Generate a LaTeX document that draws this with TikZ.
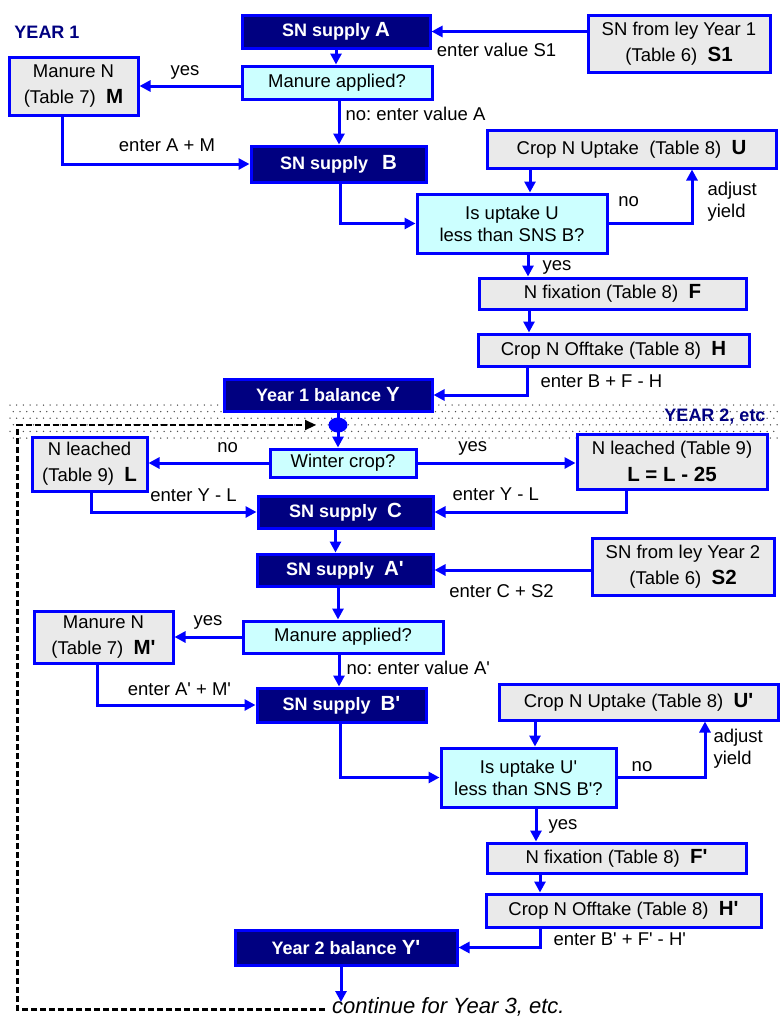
\documentclass[tikz,border=0pt]{standalone}
\usepackage{fontspec}
\setmainfont{Liberation Sans}[Ligatures=TeXOff]
\usetikzlibrary{arrows.meta,shapes.geometric}
\frenchspacing

\definecolor{boxnavy}{RGB}{0,0,128}
\definecolor{edgeblue}{RGB}{0,0,255}
\definecolor{asklight}{RGB}{204,255,255}
\definecolor{tablegrey}{RGB}{234,234,234}
\newcommand{\keyletter}[1]{{\fontsize{20.5}{20.5}\selectfont\bfseries #1}}

\begin{document}
\begin{tikzpicture}[
        x=1pt, y=-1pt,
        >={Triangle[length=11pt,width=11pt]},
        every node/.style={inner sep=0pt},
        box size/.style 2 args={minimum width=#1pt, minimum height=#2pt},
        supply box/.style={draw=edgeblue, line width=3pt, fill=boxnavy, text=white, font=\fontsize{18}{22}\selectfont\bfseries},
        ask box/.style={draw=edgeblue, line width=3pt, fill=asklight, align=center, font=\fontsize{18.5}{22}\selectfont},
        table box/.style={draw=edgeblue, line width=3pt, fill=tablegrey, align=center, font=\fontsize{18.5}{26}\selectfont},
        flow line/.style={draw=edgeblue, line width=3pt, ->, nodes={flow label}},
        flow label/.style={font=\fontsize{18.5}{22}\selectfont, text height=13pt, text depth=4pt},
        two lines/.style={align=left, text height=, text depth=},
        year label/.style={text=boxnavy, font=\fontsize{18}{22}\selectfont\bfseries},
        junction/.style={ellipse, fill=edgeblue, minimum width=19pt, minimum height=15pt},
        loop line/.style={line width=2.2pt, dash pattern=on 6pt off 3pt, -{Triangle[length=11pt,width=10pt]}},
        band dot/.style={fill=black!70}
    ]
    \useasboundingbox (0,0) rectangle (779,1017);
    % dotted band between the years
    \foreach \row in {0,...,5}
        \foreach \col in {0,...,114}
            \fill[band dot] ({10+6.7*\col+3.35*mod(\row,2)}, {405+6.6*\row}) circle (0.75pt);

    % year 1
    \node[year label] (year one) at (47,32) {YEAR 1};
    \node[supply box, box size={188}{33}] (supply A) at (336,31.5) {SN supply \keyletter{A}};
    \node[table box, box size={182}{57}] (ley one) at (679,43.5) {SN from ley Year 1\\(Table 6)\ \ \keyletter{S1}};
    \node[ask box, box size={190}{33}] (manure ask) at (337,82.5) {Manure applied?};
    \node[table box, box size={129}{58}] (manure N) at (73.5,86) {Manure N\\(Table 7)\ \ \keyletter{M}};
    \node[supply box, box size={175}{36}] (supply B) at (338.5,164) {SN supply\hspace{14pt}\keyletter{B}};
    \node[table box, box size={289}{38}] (crop U) at (631.5,149) {Crop N Uptake\ \ (Table 8)\ \ \keyletter{U}};
    \node[ask box, box size={190}{59}] (ask U) at (512,223.5) {Is uptake U\\less than SNS B?};
    \node[table box, box size={267}{31}] (fix F) at (612.5,293.5) {N fixation (Table 8)\ \ \keyletter{F}};
    \node[table box, box size={271}{32}] (off H) at (613.5,350) {Crop N Offtake (Table 8)\ \ \keyletter{H}};
    \node[supply box, box size={208}{32}] (bal Y) at (328,395) {Year 1 balance \keyletter{Y}};

    % year 2
    \node[year label] (year two) at (715,417) {YEAR 2, etc};
    \node[junction] (join) at (338,425) {};
    \node[ask box, box size={146}{28}] (winter) at (343,463) {Winter crop?};
    \node[table box, box size={115}{54}] (leach L) at (89.5,464) {N leached\\(Table 9)\ \ \keyletter{L}};
    \node[table box, box size={190}{55}, font=\fontsize{18.5}{27}\selectfont] (leach R) at (672,461.5) {N leached (Table 9)\\\keyletter{L = L - 25}};
    \node[supply box, box size={175}{32}] (supply C) at (345.5,512) {SN supply\ \ \keyletter{C}};
    \node[supply box, box size={176}{32}] (supply A2) at (345,570) {SN supply\ \ \keyletter{A'}};
    \node[table box, box size={182}{57}] (ley two) at (683,566.5) {SN from ley Year 2\\(Table 6)\ \ \keyletter{S2}};
    \node[ask box, box size={200}{32}] (manure ask2) at (343,637) {Manure applied?};
    \node[table box, box size={139}{52}] (manure N2) at (103.5,637) {Manure N\\(Table 7)\ \ \keyletter{M'}};
    \node[supply box, box size={169}{34}] (supply B2) at (341.5,705) {SN supply\ \ \keyletter{B'}};
    \node[table box, box size={279}{36}] (crop U2) at (638.5,702) {Crop N Uptake (Table 8)\ \ \keyletter{U'}};
    \node[ask box, box size={175}{59}] (ask U2) at (528.5,777.5) {Is uptake U'\\less than SNS B'?};
    \node[table box, box size={259}{30}] (fix F2) at (616.5,858) {N fixation (Table 8)\ \ \keyletter{F'}};
    \node[table box, box size={275}{33}] (off H2) at (623.5,910.5) {Crop N Offtake (Table 8)\ \ \keyletter{H'}};
    \node[supply box, box size={222}{35}] (bal Y2) at (346,947.5) {Year 2 balance \keyletter{Y'}};
    \node[anchor=base west, font=\fontsize{22}{26}\selectfont\itshape] (more) at (332,1013) {continue for Year 3, etc.};
    \coordinate (next year) at (341,1002);
    \coordinate (loop corner) at (17.5,425);
    \coordinate (loop end) at (316,425);

    % year 1 flow
    \draw[flow line] (ley one.west |- supply A.east) -- (supply A.east) node[pos=0.58, below=10.5pt] {enter value S1};
    \draw[flow line] (supply A.south) -- (supply A.south |- manure ask.north);
    \draw[flow line] (manure N.east -| manure ask.west) -- (manure N.east) node[pos=0.55, above=4.7pt] {yes};
    \draw[flow line] ([xshift=2pt]manure ask.south) -- ([xshift=2pt]manure ask.south |- supply B.north) node[pos=0.35, right=5pt] {no: enter value A};
    \draw[flow line] ([xshift=-11.5pt]manure N.south) |- (supply B.west) node[pos=0.78, above=7pt] {enter A + M};
    \draw[flow line] ([xshift=18pt]ask U.north |- crop U.south) -- ([xshift=18pt]ask U.north);
    \draw[flow line] (ask U.east) -| ([xshift=60.5pt]crop U.south) node[pos=0.12, above=11.5pt] {no} node[pos=0.7, right=14pt, two lines] {adjust\\yield};
    \draw[flow line] ([xshift=1.5pt]supply B.south) |- (ask U.west);
    \draw[flow line] ([xshift=16pt]ask U.south) -- ([xshift=16pt]ask U.south |- fix F.north) node[midway, right=13pt] {yes};
    \draw[flow line] ([xshift=-83.5pt]fix F.south) -- ([xshift=-83.5pt]fix F.south |- off H.north);
    \draw[flow line] ([xshift=-86.5pt]off H.south) |- (bal Y.east) node[pos=0.28, right=12pt] {enter B + F - H};

    % year 2 flow
    \draw[flow line] (join |- bal Y.south) -- (join |- winter.north);
    \draw[flow line] (winter.west) -- (winter.west -| leach L.east) node[pos=0.34, above=5pt] {no};
    \draw[flow line] (winter.east) -- (winter.east -| leach R.west) node[pos=0.35, above=6.3pt] {yes};
    \draw[flow line] ([xshift=1.5pt]leach L.south) |- (supply C.west) node[pos=0.81, above=5.3pt] {enter Y - L};
    \draw[flow line] ([xshift=-46pt]leach R.south) |- (supply C.east) node[pos=0.84, above=6.3pt] {enter Y - L};
    \draw[flow line] ([xshift=-10pt]supply C.south) -- ([xshift=-10pt]supply C.south |- supply A2.north);
    \draw[flow line] (ley two.west |- supply A2.east) -- (supply A2.east) node[pos=0.57, below=13pt] {enter C + S2};
    \draw[flow line] ([xshift=-7pt]supply A2.south) -- ([xshift=-7pt]supply A2.south |- manure ask2.north);
    \draw[flow line] (manure N2.east -| manure ask2.west) -- (manure N2.east) node[midway, above=5.7pt] {yes};
    \draw[flow line] ([xshift=-4pt]manure ask2.south) -- ([xshift=-4pt]manure ask2.south |- supply B2.north) node[pos=0.47, right=6pt] {no: enter value A'};
    \draw[flow line] ([xshift=-6.5pt]manure N2.south) |- (supply B2.west) node[pos=0.76, above=4.3pt] {enter A' + M'};
    \draw[flow line] ([xshift=6.5pt]ask U2.north |- crop U2.south) -- ([xshift=6.5pt]ask U2.north);
    \draw[flow line] (ask U2.east) -| ([xshift=66.5pt]crop U2.south) node[pos=0.14, above=1pt] {no} node[pos=0.754, right=7pt, two lines] {adjust\\yield};
    \draw[flow line] ([xshift=-1.5pt]supply B2.south) |- (ask U2.west);
    \draw[flow line] ([xshift=7.5pt]ask U2.south) -- ([xshift=7.5pt]ask U2.south |- fix F2.north) node[midway, right=11pt] {yes};
    \draw[flow line] ([xshift=-76.5pt]fix F2.south) -- ([xshift=-76.5pt]fix F2.south |- off H2.north);
    \draw[flow line] ([xshift=-83.5pt]off H2.south) |- (bal Y2.east) node[pos=0.33, right=12pt] {enter B' + F' - H'};
    \draw[flow line] ([xshift=-5pt]bal Y2.south) -- (next year);
    % back to the top of year 2
    \draw[loop line] ([xshift=-7pt,yshift=-3pt]more.west) -| (loop corner) -- (loop end);
\end{tikzpicture}
\end{document}
